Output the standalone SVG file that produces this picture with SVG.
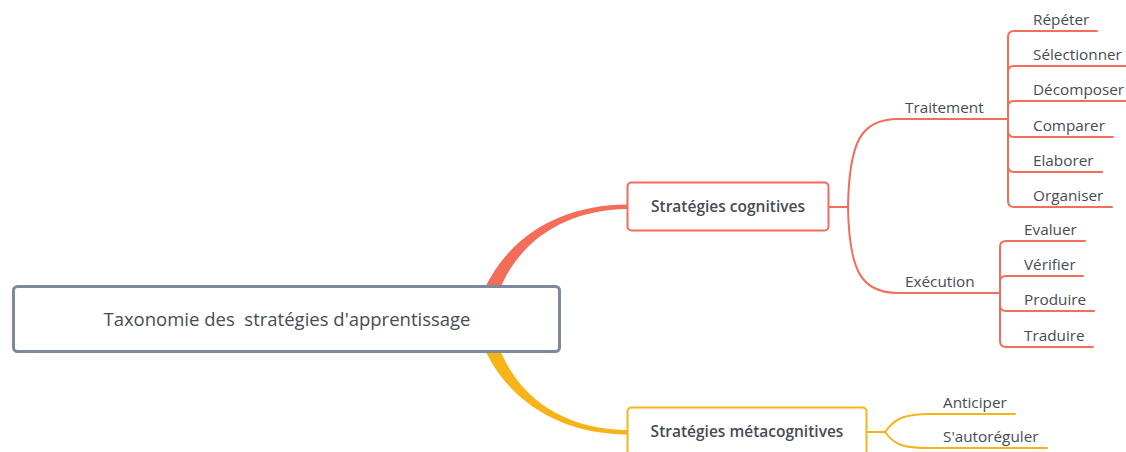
<svg xmlns="http://www.w3.org/2000/svg" width="1126" height="452" viewBox="0 0 1126 452">
<style>
.t{font-family:"Open Sans","Noto Sans","Liberation Sans",sans-serif;fill:#474b55}
.leaf{font-size:15.3px}
.b{font-size:15.5px;font-weight:600}
.c{fill:none;stroke:#f46d5b;stroke-width:2;stroke-linecap:round}
.m{fill:none;stroke:#f6b418;stroke-width:2;stroke-linecap:round}
</style>
<rect width="1126" height="452" fill="#fff"/>
<g id="connectors">
<path d="M480,300 C503,238 560,204.5 627,204.5 L627,209 C562,209.5 513,245 496,300 Z" fill="#f46d5b"/>
<path d="M480,338 C503,400 560,434.5 627,434.5 L627,430 C562,429.5 513,395 496,338 Z" fill="#f6b418"/>
<path class="c" d="M829,207 H848"/>
<path class="c" d="M848,207 C849,140 862,119 898,119 H1008"/>
<path class="c" d="M848,207 C849,272 862,293 898,293 H1000"/>
<path class="c" d="M1008,119 V37 Q1008,31 1014,31 H1097"/>
<path class="c" d="M1008,119 V72 Q1008,66 1014,66 H1126"/>
<path class="c" d="M1008,119 V107 Q1008,101 1014,101 H1126"/>
<path class="c" d="M1008,119 V131 Q1008,137 1014,137 H1113"/>
<path class="c" d="M1008,119 V166 Q1008,172 1014,172 H1102"/>
<path class="c" d="M1008,119 V201 Q1008,207 1014,207 H1112"/>
<path class="c" d="M1000,293 V247 Q1000,241 1006,241 H1085"/>
<path class="c" d="M1000,293 V282 Q1000,276 1006,276 H1083"/>
<path class="c" d="M1000,293 V305 Q1000,311 1006,311 H1094"/>
<path class="c" d="M1000,293 V341 Q1000,347 1006,347 H1093"/>
<path class="m" d="M867,432 H885"/>
<path class="m" d="M885,432 C895,418 905,414 930,414 H1015"/>
<path class="m" d="M885,432 C895,446 905,448 930,448 H1047"/>
</g>
<g id="root">
<rect x="13.5" y="286.5" width="546" height="65" rx="4" fill="#fff" stroke="#7e899b" stroke-width="3"/>
<text class="t" x="287" y="326" font-size="18.5" font-weight="500" text-anchor="middle" xml:space="preserve">Taxonomie des  stratégies d'apprentissage</text>
</g>
<g id="cognitives">
<rect x="627.5" y="182.5" width="201" height="48" rx="4" fill="#fff" stroke="#f46d5b" stroke-width="2"/>
<text class="t b" x="728" y="212" text-anchor="middle">Stratégies cognitives</text>
</g>
<g id="metacognitives">
<rect x="627.5" y="407.5" width="239" height="50" rx="4" fill="#fff" stroke="#f6b418" stroke-width="2"/>
<text class="t b" x="747" y="437" text-anchor="middle">Stratégies métacognitives</text>
</g>
<g id="traitement"><text class="t leaf" x="905" y="113">Traitement</text></g>
<g id="execution"><text class="t leaf" x="905" y="287">Exécution</text></g>
<g id="repeter"><text class="t leaf" x="1033" y="25">Répéter</text></g>
<g id="selectionner"><text class="t leaf" x="1033" y="60">Sélectionner</text></g>
<g id="decomposer"><text class="t leaf" x="1033" y="95">Décomposer</text></g>
<g id="comparer"><text class="t leaf" x="1033" y="131">Comparer</text></g>
<g id="elaborer"><text class="t leaf" x="1033" y="166">Elaborer</text></g>
<g id="organiser"><text class="t leaf" x="1033" y="201">Organiser</text></g>
<g id="evaluer"><text class="t leaf" x="1024" y="235">Evaluer</text></g>
<g id="verifier"><text class="t leaf" x="1024" y="270">Vérifier</text></g>
<g id="produire"><text class="t leaf" x="1024" y="305">Produire</text></g>
<g id="traduire"><text class="t leaf" x="1024" y="341">Traduire</text></g>
<g id="anticiper"><text class="t leaf" x="943" y="408">Anticiper</text></g>
<g id="autoreguler"><text class="t leaf" x="943" y="442">S'autoréguler</text></g>
</svg>
